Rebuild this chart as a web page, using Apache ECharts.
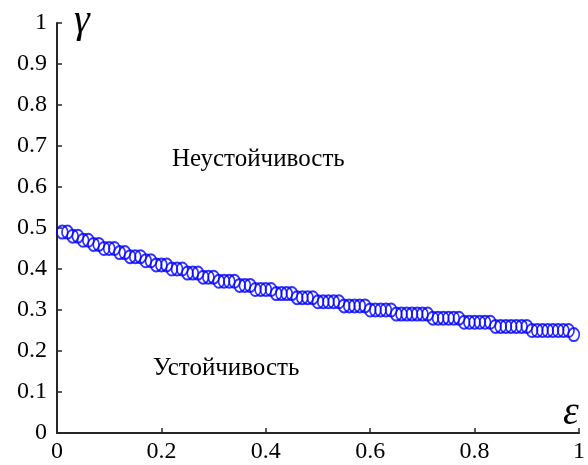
<!DOCTYPE html>
<html>
<head>
<meta charset="utf-8">
<script src="https://cdn.jsdelivr.net/npm/echarts@6/dist/echarts.min.js"></script>
<style>
  html, body { margin: 0; padding: 0; background: #fff; }
  #chart { width: 588px; height: 465px; }
</style>
</head>
<body>
<div id="chart"></div>
<script>
// Stability boundary gamma(epsilon), sampled at epsilon = 0.01 ... 0.99
const epsilonValues = [
  0.01, 0.02, 0.03, 0.04, 0.05, 0.06, 0.07, 0.08, 0.09, 0.10,
  0.11, 0.12, 0.13, 0.14, 0.15, 0.16, 0.17, 0.18, 0.19, 0.20,
  0.21, 0.22, 0.23, 0.24, 0.25, 0.26, 0.27, 0.28, 0.29, 0.30,
  0.31, 0.32, 0.33, 0.34, 0.35, 0.36, 0.37, 0.38, 0.39, 0.40,
  0.41, 0.42, 0.43, 0.44, 0.45, 0.46, 0.47, 0.48, 0.49, 0.50,
  0.51, 0.52, 0.53, 0.54, 0.55, 0.56, 0.57, 0.58, 0.59, 0.60,
  0.61, 0.62, 0.63, 0.64, 0.65, 0.66, 0.67, 0.68, 0.69, 0.70,
  0.71, 0.72, 0.73, 0.74, 0.75, 0.76, 0.77, 0.78, 0.79, 0.80,
  0.81, 0.82, 0.83, 0.84, 0.85, 0.86, 0.87, 0.88, 0.89, 0.90,
  0.91, 0.92, 0.93, 0.94, 0.95, 0.96, 0.97, 0.98, 0.99
];
const gammaValues = [
  0.49, 0.49, 0.48, 0.48, 0.47, 0.47, 0.46, 0.46, 0.45, 0.45,
  0.45, 0.44, 0.44, 0.43, 0.43, 0.43, 0.42, 0.42, 0.41, 0.41,
  0.41, 0.40, 0.40, 0.40, 0.39, 0.39, 0.39, 0.38, 0.38, 0.38,
  0.37, 0.37, 0.37, 0.37, 0.36, 0.36, 0.36, 0.35, 0.35, 0.35,
  0.35, 0.34, 0.34, 0.34, 0.34, 0.33, 0.33, 0.33, 0.33, 0.32,
  0.32, 0.32, 0.32, 0.32, 0.31, 0.31, 0.31, 0.31, 0.31, 0.30,
  0.30, 0.30, 0.30, 0.30, 0.29, 0.29, 0.29, 0.29, 0.29, 0.29,
  0.29, 0.28, 0.28, 0.28, 0.28, 0.28, 0.28, 0.27, 0.27, 0.27,
  0.27, 0.27, 0.27, 0.26, 0.26, 0.26, 0.26, 0.26, 0.26, 0.26,
  0.25, 0.25, 0.25, 0.25, 0.25, 0.25, 0.25, 0.25, 0.24
];
const xTickLabels = ['0', '0.2', '0.4', '0.6', '0.8', '1'];
const yTickLabels = ['0', '0.1', '0.2', '0.3', '0.4', '0.5', '0.6', '0.7', '0.8', '0.9', '1'];
const unstableLabel = 'Неустойчивость';
const stableLabel = 'Устойчивость';

const serif = 'Liberation Serif';
const axisColor = '#262626';

const chart = echarts.init(document.getElementById('chart'), null, { renderer: 'canvas' });

const points = epsilonValues.map((e, i) => [e, gammaValues[i]]);

const axisCommon = {
  axisLine: { show: true, lineStyle: { color: axisColor, width: 2 } },
  axisTick: { show: true, inside: true, length: 5, lineStyle: { color: axisColor, width: 1.5 } },
  splitLine: { show: false },
  axisLabel: { color: '#000', fontFamily: serif, fontSize: 24 }
};

chart.setOption({
  animation: false,
  backgroundColor: '#fff',
  grid: { left: 57, right: 9, top: 23, bottom: 32, containLabel: false },
  xAxis: Object.assign({}, axisCommon, {
    type: 'value', min: 0, max: 1, interval: 0.2,
    axisLabel: Object.assign({}, axisCommon.axisLabel, {
      margin: 7,
      formatter: v => xTickLabels[Math.round(v / 0.2)]
    })
  }),
  yAxis: Object.assign({}, axisCommon, {
    type: 'value', min: 0, max: 1, interval: 0.1,
    axisLabel: Object.assign({}, axisCommon.axisLabel, {
      margin: 10,
      formatter: v => yTickLabels[Math.round(v / 0.1)]
    })
  }),
  series: [{
    type: 'scatter',
    data: points,
    symbol: 'circle',
    symbolSize: [11, 13],
    itemStyle: { color: 'rgba(0,0,0,0)', borderColor: '#0000ff', borderWidth: 1.8 },
    emphasis: { disabled: true }
  }],
  graphic: [
    { type: 'text', left: 172, top: 147,
      style: { text: unstableLabel, fontFamily: serif, fontSize: 25, fill: '#000' } },
    { type: 'text', left: 153, top: 356,
      style: { text: stableLabel, fontFamily: serif, fontSize: 25, fill: '#000' } },
    { type: 'text', left: 74, top: 1,
      style: { text: 'γ', fontFamily: serif, fontStyle: 'italic', fontSize: 40, fill: '#000' } },
    { type: 'text', left: 563, top: 393,
      style: { text: 'ε', fontFamily: serif, fontStyle: 'italic', fontSize: 40, fill: '#000' } }
  ]
});
</script>
</body>
</html>
